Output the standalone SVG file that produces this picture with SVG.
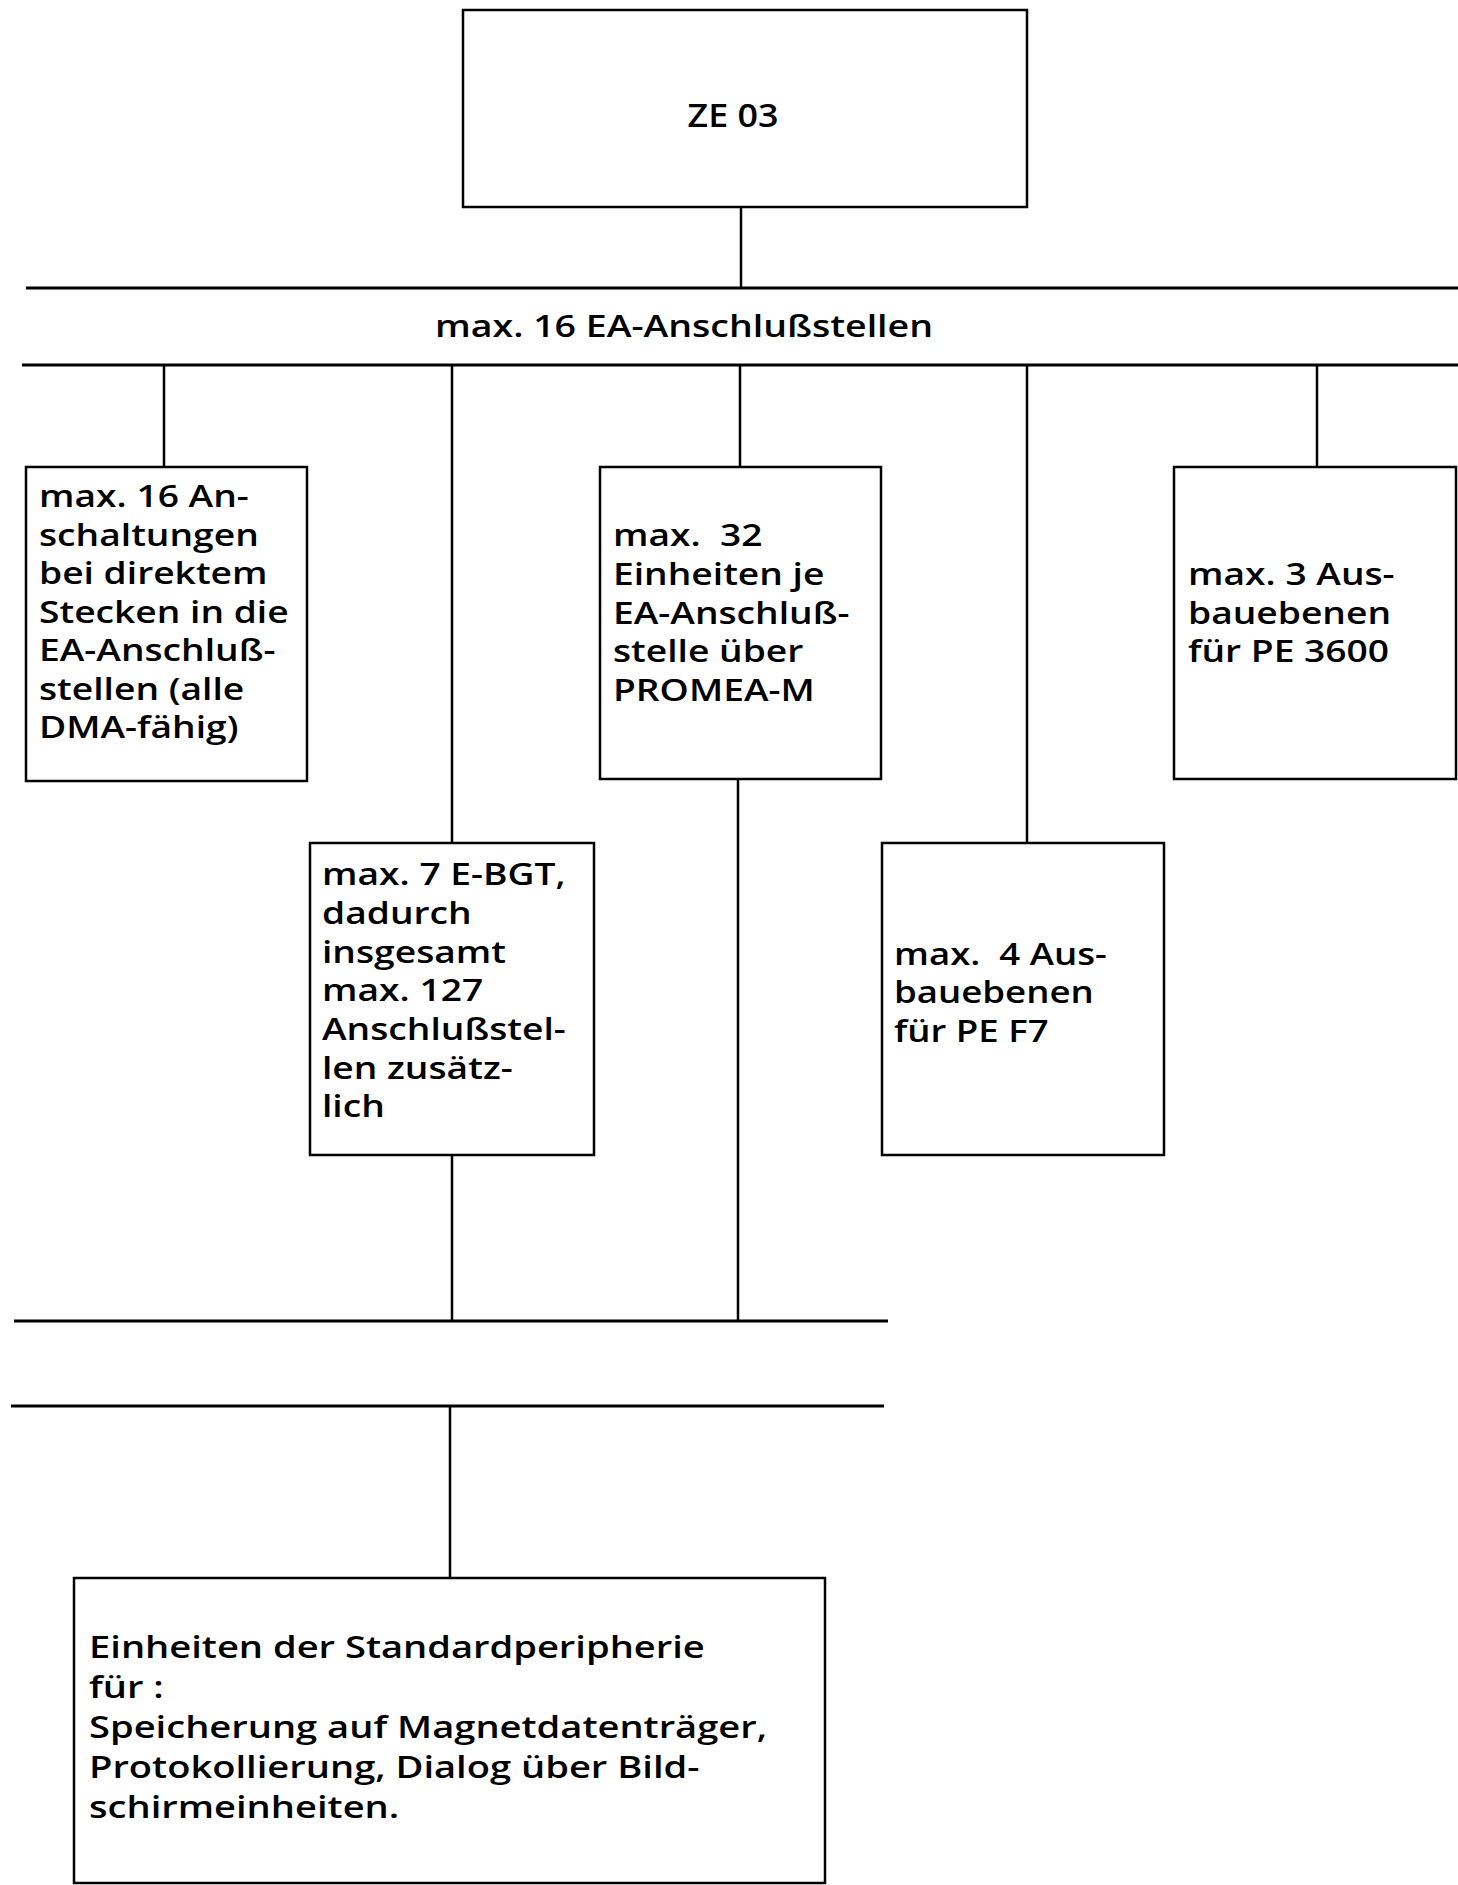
<svg xmlns="http://www.w3.org/2000/svg" width="1458" height="1885" viewBox="0 0 1458 1885">
<style>
.bx{fill:#fff;stroke:#000;stroke-width:2.5}
.ln{stroke:#000;stroke-width:2.5;fill:none}
.bus{stroke:#000;stroke-width:3;fill:none}
.t{font-family:"Open Sans","DejaVu Sans",sans-serif;font-size:30px;font-weight:600;fill:#000;white-space:pre}
</style>
<rect width="1458" height="1885" fill="#fff"/>
<g id="connectors">
<line class="ln" x1="741" y1="207" x2="741" y2="288"/>
<line class="bus" x1="26" y1="288" x2="1458" y2="288"/>
<line class="bus" x1="22" y1="365" x2="1458" y2="365"/>
<line class="ln" x1="164" y1="365" x2="164" y2="467"/>
<line class="ln" x1="452" y1="365" x2="452" y2="843"/>
<line class="ln" x1="740" y1="365" x2="740" y2="467"/>
<line class="ln" x1="1027" y1="365" x2="1027" y2="843"/>
<line class="ln" x1="1317" y1="365" x2="1317" y2="467"/>
<line class="ln" x1="452" y1="1155" x2="452" y2="1321"/>
<line class="ln" x1="738" y1="779" x2="738" y2="1321"/>
<line class="bus" x1="14" y1="1321" x2="888" y2="1321"/>
<line class="bus" x1="11" y1="1406" x2="884" y2="1406"/>
<line class="ln" x1="450" y1="1406" x2="450" y2="1578"/>
</g>
<g id="label-bus">
<text class="t" transform="translate(435,337) scale(1.25,1)" x="0" y="0">max. 16 EA-Anschlußstellen</text>
</g>
<g id="ze03">
<rect class="bx" x="463" y="10" width="564" height="197"/>
<text class="t" style="font-size:32px" text-anchor="middle" transform="translate(733,127) scale(1.12,1)" x="0" y="0">ZE 03</text>
</g>
<g id="box-a">
<rect class="bx" x="26" y="467" width="281" height="314"/>
<text class="t" transform="translate(39,0) scale(1.24,1)">
<tspan x="0" y="507">max. 16 An-</tspan>
<tspan x="0" y="546">schaltungen</tspan>
<tspan x="0" y="584">bei direktem</tspan>
<tspan x="0" y="623">Stecken in die</tspan>
<tspan x="0" y="661">EA-Anschluß-</tspan>
<tspan x="0" y="700">stellen (alle</tspan>
<tspan x="0" y="738">DMA-fähig)</tspan>
</text>
</g>
<g id="box-c">
<rect class="bx" x="600" y="467" width="281" height="312"/>
<text class="t" transform="translate(613,0) scale(1.24,1)">
<tspan x="0" y="546">max.  32</tspan>
<tspan x="0" y="585">Einheiten je</tspan>
<tspan x="0" y="624">EA-Anschluß-</tspan>
<tspan x="0" y="662">stelle über</tspan>
<tspan x="0" y="701">PROMEA-M</tspan>
</text>
</g>
<g id="box-e">
<rect class="bx" x="1174" y="467" width="282" height="312"/>
<text class="t" transform="translate(1188,0) scale(1.24,1)">
<tspan x="0" y="585">max. 3 Aus-</tspan>
<tspan x="0" y="624">bauebenen</tspan>
<tspan x="0" y="662">für PE 3600</tspan>
</text>
</g>
<g id="box-b">
<rect class="bx" x="310" y="843" width="284" height="312"/>
<text class="t" transform="translate(322,0) scale(1.24,1)">
<tspan x="0" y="885">max. 7 E-BGT,</tspan>
<tspan x="0" y="924">dadurch</tspan>
<tspan x="0" y="963">insgesamt</tspan>
<tspan x="0" y="1001">max. 127</tspan>
<tspan x="0" y="1040">Anschlußstel-</tspan>
<tspan x="0" y="1079">len zusätz-</tspan>
<tspan x="0" y="1117">lich</tspan>
</text>
</g>
<g id="box-d">
<rect class="bx" x="882" y="843" width="282" height="312"/>
<text class="t" transform="translate(894,0) scale(1.22,1)">
<tspan x="0" y="965">max.  4 Aus-</tspan>
<tspan x="0" y="1003">bauebenen</tspan>
<tspan x="0" y="1042">für PE F7</tspan>
</text>
</g>
<g id="box-f">
<rect class="bx" x="74" y="1578" width="751" height="305"/>
<text class="t" transform="translate(89,0) scale(1.27,1)">
<tspan x="0" y="1658">Einheiten der Standardperipherie</tspan>
<tspan x="0" y="1698">für :</tspan>
<tspan x="0" y="1738">Speicherung auf Magnetdatenträger,</tspan>
<tspan x="0" y="1778">Protokollierung, Dialog über Bild-</tspan>
<tspan x="0" y="1818">schirmeinheiten.</tspan>
</text>
</g>
</svg>
